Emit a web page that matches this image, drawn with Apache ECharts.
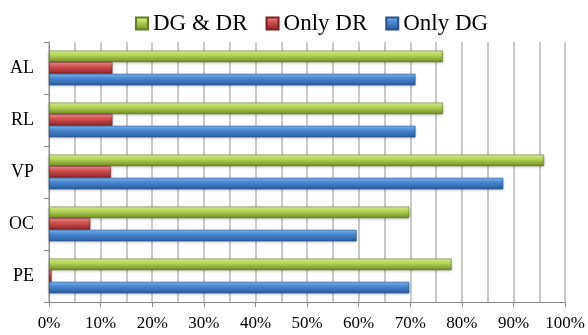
<!DOCTYPE html>
<html>
<head>
    <meta charset="utf-8">
    <title>DG / DR bars</title>
    <script src="https://cdn.jsdelivr.net/npm/echarts/dist/echarts.min.js"></script>
</head>
<body style="margin:0">
    <div id="chart" style="width: 588px; height: 335px;"></div>
    <script type="text/javascript">
        // categories, bottom to top
        var categories = ['PE', 'OC', 'VP', 'RL', 'AL'];
        var onlyDG = [69.8, 59.6, 88, 71, 71];
        var onlyDR = [0.5, 8, 12, 12.3, 12.3];
        var dgAndDr = [78, 69.8, 95.9, 76.3, 76.3];
        var legendOrder = ['DG & DR', 'Only DR', 'Only DG'];

        var chart = echarts.init(document.getElementById('chart'));

        function grad(top, mid, bottom) {
            return new echarts.graphic.LinearGradient(0, 0, 0, 1, [
                {offset: 0, color: top},
                {offset: 0.35, color: mid},
                {offset: 1, color: bottom}
            ]);
        }

        function barSeries(name, data, colors, edge) {
            return {
                name: name,
                type: 'bar',
                data: data,
                barGap: '0%',
                barCategoryGap: '33%',
                itemStyle: {
                    color: grad(colors[0], colors[1], colors[2]),
                    borderColor: edge,
                    borderWidth: 0.6,
                    shadowColor: 'rgba(0,0,0,0.25)',
                    shadowBlur: 3,
                    shadowOffsetY: 1
                }
            };
        }

        var font = 'Liberation Serif';

        var option = {
            animation: false,
            legend: {
                data: legendOrder,
                top: 7,
                left: 130,
                itemWidth: 12,
                itemHeight: 12,
                itemGap: 18,
                textStyle: {fontFamily: font, fontSize: 23, color: '#000'},
                icon: 'rect'
            },
            grid: {left: 49, right: 22, top: 42, bottom: 33},
            xAxis: {
                type: 'value',
                min: 0,
                max: 100,
                interval: 10,
                axisLine: {show: true, lineStyle: {color: '#888'}},
                axisTick: {show: true, length: 5, lineStyle: {color: '#888'}},
                axisLabel: {
                    formatter: '{value}%',
                    fontFamily: font,
                    fontSize: 17,
                    color: '#000',
                    margin: 13
                },
                splitLine: {show: true, lineStyle: {color: '#b8b8b8', width: 1.5}},
                minorTick: {show: false, splitNumber: 2},
                minorSplitLine: {show: true, lineStyle: {color: '#b8b8b8', width: 1.5}}
            },
            yAxis: {
                type: 'category',
                data: categories,
                axisLine: {show: true, lineStyle: {color: '#888'}},
                axisTick: {show: true, length: 5, lineStyle: {color: '#888'}},
                axisLabel: {fontFamily: font, fontSize: 18, color: '#000', margin: 15}
            },
            series: [
                barSeries('DG & DR', dgAndDr, ['#e2f59a', '#b8d95a', '#6f8c26'], '#627d22'),
                barSeries('Only DR', onlyDR, ['#f39a9a', '#d65454', '#8a2424'], '#7a1f1f'),
                barSeries('Only DG', onlyDG, ['#8cc0f4', '#4a8ad6', '#2a5a98'], '#27508a')
            ]
        };

        chart.setOption(option);
    </script>
</body>
</html>
